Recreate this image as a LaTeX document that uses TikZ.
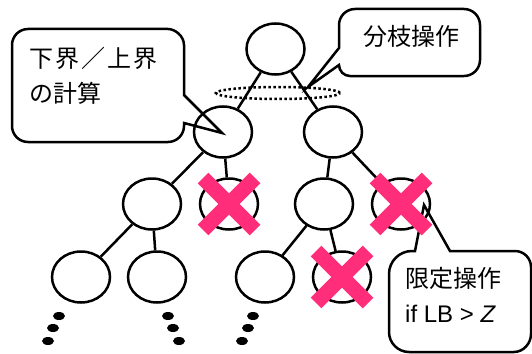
\documentclass[tikz,border=0pt]{standalone}
\usepackage{fontspec}
\setmainfont{Liberation Sans}
\newfontfamily\jp{Noto Sans CJK JP}
\usetikzlibrary{shapes.geometric}
\definecolor{xpink}{RGB}{255,45,122}
\begin{document}
\begin{tikzpicture}[x=1pt,y=-1pt,
 tn/.style={ellipse,draw,line width=2.5pt,minimum width=58pt,minimum height=51pt,inner sep=0pt},
 edge/.style={line width=2.5pt},
 callout/.style={draw,line width=2.5pt,fill=white,line join=miter},
 xbar/.style={xpink,line width=15pt},
 dotmark/.style={ellipse,fill=black,minimum width=12pt,minimum height=8pt,inner sep=0pt},
 lbl/.style={inner sep=0pt,font=\fontsize{24}{30}\selectfont}]
\useasboundingbox (0,0) rectangle (532,353);
% callouts
\draw[callout] (184,95) -- (184,45) .. controls (184,36.2) and (175.2,29) .. (168,29)
  -- (28,29) .. controls (19.2,29) and (12,36.2) .. (12,45)
  -- (12,126) .. controls (12,134.8) and (19.2,142) .. (28,142)
  -- (168,142) .. controls (176.8,142) and (184,134.8) .. (184,126)
  -- (184,123) -- (222,133) -- cycle;
\draw[callout] (339,48) -- (339,25) .. controls (339,16.2) and (346.2,9) .. (355,9)
  -- (464,9) .. controls (472.8,9) and (480,16.2) .. (480,25)
  -- (480,60) .. controls (480,68.8) and (472.8,76) .. (464,76)
  -- (350,76) .. controls (343.9,76) and (339,71.1) .. (339,65)
  -- (308,87) -- cycle;
\draw[callout] (450,251) -- (515,251) .. controls (523.8,251) and (531,258.2) .. (531,267)
  -- (531,334) .. controls (531,343.4) and (523.4,352) .. (514,352)
  -- (409,352) .. controls (398,352) and (389,343) .. (389,332)
  -- (389,274) .. controls (389,261.3) and (399.3,251) .. (412,251)
  -- (415,251) -- (424,205) -- cycle;
% dotted ellipse
\draw[line width=2.5pt,dash pattern=on 2.5pt off 2.5pt] (278,93) ellipse [x radius=62pt, y radius=6pt];
% nodes
\node[tn] (r) at (275.5,49) {};
\node[tn] (a) at (223,132) {};
\node[tn] (b) at (333,132) {};
\node[tn] (aa) at (152,204) {};
\node[tn] (ab) at (229,204) {};
\node[tn] (ba) at (324,204) {};
\node[tn] (bb) at (401,204) {};
\node[tn] (aaa) at (81,277) {};
\node[tn] (aab) at (157,277) {};
\node[tn] (baa) at (265,277) {};
\node[tn] (bab) at (342,277) {};
% edges
\draw[edge] (r) -- (a);
\draw[edge] (r) -- (b);
\draw[edge] (a) -- (aa);
\draw[edge] (a) -- (ab);
\draw[edge] (b) -- (ba);
\draw[edge] (b) -- (bb);
\draw[edge] (aa) -- (aaa);
\draw[edge] (aa) -- (aab);
\draw[edge] (ba) -- (baa);
\draw[edge] (ba) -- (bab);
% crosses
\foreach \n in {ab,bb,bab}{
  \draw[xbar] (\n.center) ++(-26,-26) -- ++(52,52);
  \draw[xbar] (\n.center) ++(26,-26) -- ++(-52,52);
}
% continuation dots
\node[dotmark] (d1) at (59,316) {};
\node[dotmark] (d2) at (53,328) {};
\node[dotmark] (d3) at (48,341) {};
\node[dotmark] (d4) at (168,316) {};
\node[dotmark] (d5) at (173,328) {};
\node[dotmark] (d6) at (179,341) {};
\node[dotmark] (d7) at (253,316) {};
\node[dotmark] (d8) at (248,328) {};
\node[dotmark] (d9) at (242,341) {};
% texts
\node[lbl,anchor=west] (t1) at (29,58) {\jp 下\kern2pt界\kern2pt／\kern2pt上\kern2pt界};
\node[lbl,anchor=west] (t2) at (29,93) {\jp の計算};
\node[lbl] (t3) at (411,36) {\jp 分枝操作};
\node[lbl,anchor=west] (t4) at (405,278) {\jp 限定操作};
\node[lbl,anchor=west] (t5) at (405,313.5) {if LB > \textit{Z}};
\end{tikzpicture}
\end{document}
